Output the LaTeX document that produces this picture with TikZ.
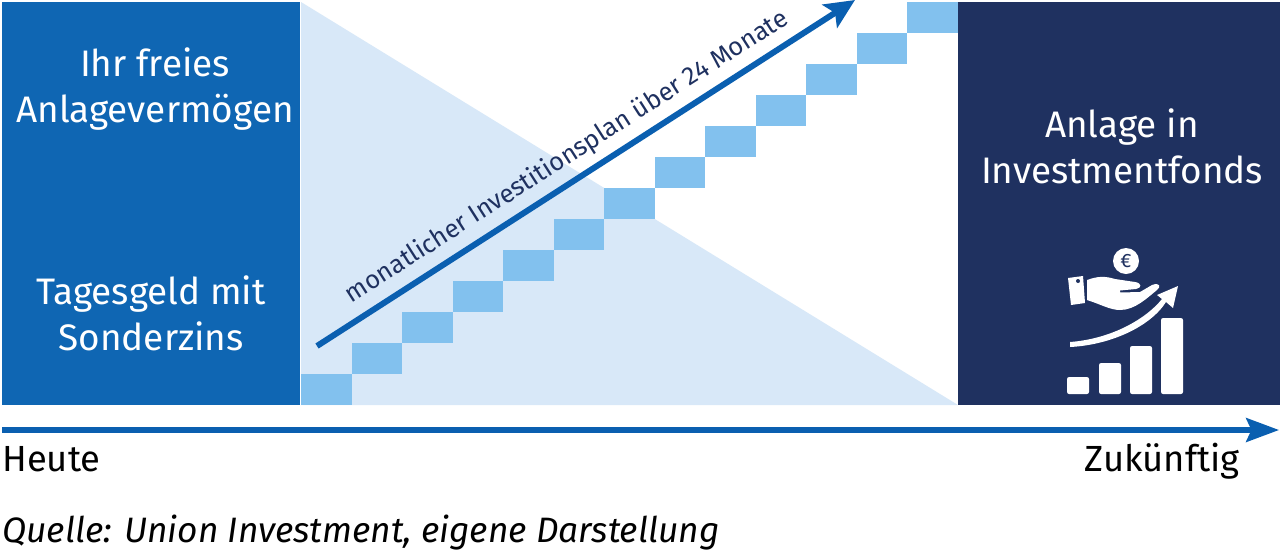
\documentclass[tikz,border=0pt]{standalone}
\usepackage{fontspec}
\setmainfont{Fira Sans}
\usetikzlibrary{arrows.meta}
\definecolor{midblue}{HTML}{0F66B3}
\definecolor{navy}{HTML}{1F3160}
\definecolor{pale}{HTML}{D8E8F8}
\definecolor{stepc}{HTML}{82C1EE}
\definecolor{arrowc}{HTML}{0A5FB0}
\tikzset{
  x=0.02cm,y=-0.02cm,
  white label/.style={text=white,font=\fontsize{21}{26}\selectfont,align=center,inner sep=0pt},
  axis label/.style={text=black,font=\fontsize{20.7}{22}\selectfont,inner sep=0pt},
  ico/.style={fill=white,draw=none},
  bigarrow/.style={draw=arrowc,line width=3.4pt,-{Stealth[length=17pt,width=15.5pt,inset=3.5pt]}}
}
\begin{document}
\begin{tikzpicture}
\useasboundingbox (0,0) rectangle (1280,552);
\fill[white] (0,0) rectangle (1280,552);
\fill[midblue] (2,2) rectangle (300,405);
\fill[navy] (958,2) rectangle (1280,405);
\fill[pale] (301,2) -- (958,405) -- (301,405) -- cycle;
\foreach \i in {0,...,12}{
  \fill[stepc] ({301+50.54*\i},{405-31*\i}) rectangle ({301+50.54*(\i+1)},{405-31*(\i+1)});
}
\coordinate (ps) at (317,346);
\coordinate (pe) at (855,0);
\draw[bigarrow] (ps) -- (pe);
\node[rotate=32.6,text=navy,font=\fontsize{14.55}{16}\selectfont,inner sep=0pt] (plan) at (567,157) {monatlicher Investitionsplan über 24 Monate};
\node[white label] (a) at (155,89) {Ihr freies\\Anlagevermögen};
\node[white label] (b) at (151,313) {Tagesgeld mit\\Sonderzins};
\node[white label] (c) at (1122,146) {Anlage in\\Investmentfonds};
\coordinate (ts) at (2,430);
\coordinate (te) at (1279,430);
\draw[draw=arrowc,line width=2.9pt,-{Stealth[length=18.7pt,width=13.6pt,inset=3pt]}] (ts) -- (te);
\node[axis label,anchor=base west] (h) at (2,471) {Heute};
\node[axis label,anchor=base east] (z) at (1240,471) {Zukünftig};
\node[axis label,anchor=base west,font=\fontsize{20.1}{22}\selectfont\itshape] (q) at (2,542) {Quelle: Union Investment, eigene Darstellung};
% icon
\foreach \x/\t in {1067/377,1099/363,1130/346,1161/318}{
  \fill[ico,rounded corners=1.2pt] (\x,\t) rectangle (\x+22,394);
}
\fill[ico] (1070,347) .. controls (1110,345) and (1150,327) .. (1166,302)
  -- (1173,308) -- (1178,286) -- (1157,295) -- (1162,299)
  .. controls (1145,320) and (1110,339) .. (1070,342) -- cycle;
\fill[ico] (1068,278) -- (1083,276) -- (1085,303) -- (1071,305) -- cycle;
\fill[navy] (1078,281) circle [radius=2];
\fill[ico] (1087,280) .. controls (1098,276) and (1105,276) .. (1115,279)
  -- (1135,282) .. controls (1142,283) and (1142,288) .. (1136,289) -- (1120,290.5)
  -- (1120,292.5) -- (1140,292) -- (1152,285) .. controls (1160,282) and (1161,287) .. (1157,290)
  .. controls (1147,298) and (1135,310) .. (1120,310)
  .. controls (1110,310) and (1100,304) .. (1087,300) -- cycle;
\fill[ico] (1126,261) circle [radius=13];
\node[text=navy,font=\fontsize{11}{12}\selectfont,inner sep=0pt] (eur) at (1126,261) {€};
\end{tikzpicture}
\end{document}
